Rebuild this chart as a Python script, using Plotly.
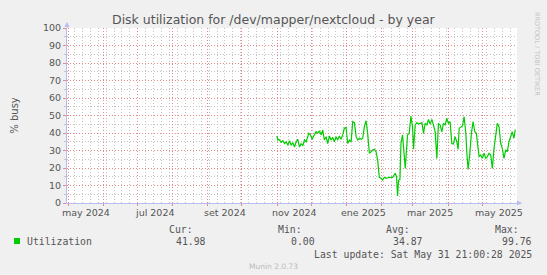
import pandas as pd
import plotly.graph_objects as go

# ---- data ----
base_date = "2024-05-01"
day_offset = [183.8, 184.7, 185.6, 187.7, 189.1, 190.6, 192.1, 193.5, 195.0, 196.5,
              197.9, 199.4, 200.9, 202.3, 203.8, 205.3, 206.7, 208.2, 209.7, 212.0,
              213.5, 215.0, 216.4, 218.5, 219.9, 221.4, 222.9, 224.3, 225.8, 227.3,
              228.7, 230.2, 231.7, 233.1, 234.6, 236.1, 237.5, 239.0, 240.5, 242.0,
              243.4, 244.9, 246.4, 247.9, 249.4, 250.8, 252.3, 253.8, 255.2, 256.7,
              258.2, 259.6, 261.1, 262.6, 264.0, 265.5, 267.0, 268.4, 269.9, 271.4,
              272.8, 274.3, 275.8, 277.2, 278.7, 280.2, 283.1, 286.0, 288.4, 289.5,
              290.4, 291.3, 292.5, 293.4, 294.8, 296.0, 297.2, 298.3, 299.2, 300.7,
              302.2, 303.6, 304.5, 306.0, 307.5, 308.9, 310.4, 311.9, 313.3, 314.8,
              316.3, 317.7, 319.2, 320.7, 322.1, 323.6, 325.1, 326.5, 328.0, 329.5,
              330.9, 332.4, 333.9, 335.3, 336.8, 338.3, 339.7, 341.2, 342.7, 343.9,
              344.8, 346.3, 347.7, 349.2, 350.7, 351.6, 352.7, 354.2, 355.6, 357.1,
              358.6, 360.0, 361.5, 362.4, 363.9, 365.3, 366.8, 368.3, 369.7, 371.2,
              372.7, 374.1, 375.6, 377.1, 378.5, 380.0, 381.5, 382.9, 384.4, 385.9,
              387.3, 388.8, 390.3, 391.7, 393.2, 394.3]
utilization = [38.3, 36.0, 36.4, 34.7, 35.6, 34.0, 35.0, 33.0, 35.6, 33.0,
               34.5, 32.0, 35.0, 36.4, 32.0, 34.0, 32.6, 36.0, 35.0, 39.8,
               38.9, 36.4, 38.3, 40.8, 39.8, 41.3, 38.9, 41.7, 36.0, 37.9,
               34.0, 38.3, 36.0, 37.5, 35.0, 37.9, 36.0, 38.3, 36.4, 38.9,
               42.7, 43.2, 34.0, 36.0, 35.0, 46.5, 45.9, 37.9, 36.0, 37.0,
               36.4, 37.0, 43.6, 47.0, 39.8, 28.4, 29.3, 30.3, 30.7, 29.3,
               24.6, 14.7, 14.1, 13.1, 14.7, 14.1, 14.7, 14.7, 17.0, 15.0,
               4.0, 13.0, 13.5, 34.0, 39.0, 26.5, 19.8, 30.3, 38.9, 39.8,
               49.7, 43.6, 30.7, 44.6, 45.9, 45.1, 45.5, 45.9, 39.8, 45.5,
               44.6, 47.8, 45.1, 47.8, 44.6, 40.7, 25.5, 45.5, 44.6, 40.7,
               45.5, 44.6, 48.4, 45.5, 46.5, 34.0, 33.7, 37.9, 35.0, 30.7,
               42.7, 43.6, 44.0, 49.3, 39.8, 28.4, 19.2, 28.4, 39.8, 46.5,
               40.7, 39.8, 32.2, 26.5, 27.4, 25.5, 28.4, 25.5, 26.5, 28.4,
               27.4, 19.8, 31.2, 37.9, 45.5, 43.6, 34.0, 31.2, 25.5, 30.3,
               29.3, 35.0, 37.9, 40.7, 37.0, 41.98]

month_grid = ["2024-05-01", "2024-06-01", "2024-07-01", "2024-08-01", "2024-09-01",
              "2024-10-01", "2024-11-01", "2024-12-01", "2025-01-01", "2025-02-01",
              "2025-03-01", "2025-04-01", "2025-05-01"]
label_dates = ["2024-05-16", "2024-07-16", "2024-09-16", "2024-11-16",
               "2025-01-16", "2025-03-16", "2025-05-16"]
label_text = ["may 2024", "jul 2024", "set 2024", "nov 2024",
              "ene 2025", "mar 2025", "may 2025"]
y_ticks = [0, 10, 20, 30, 40, 50, 60, 70, 80, 90, 100]

x_range = ["2024-04-29 12:00", "2025-05-31 21:00"]

title_text = "Disk utilization for /dev/mapper/nextcloud - by year"
series_name = "Utilization"
stat_names = ["Cur:", "Min:", "Avg:", "Max:"]
stat_values = ["41.98", "0.00", "34.87", "99.76"]
last_update = "Last update: Sat May 31 21:00:28 2025"
version_text = "Munin 2.0.73"
watermark = "RRDTOOL / TOBI OETIKER"

# ---- layout geometry (pixels) ----
W, H = 547, 275
L, R, T, B = 67, 517, 28, 203
PW, PH = R - L, B - T


def fx(px):
    return (px - L) / PW


def fy(py):
    return (B - py) / PH


dates = pd.Timestamp(base_date) + pd.to_timedelta(day_offset, unit="D")

GREEN = "#00CC00"
TXT = "#555555"
AXIS_C = "#b4bcf0"
MGRID = "#ea8888"
GRID = "#c4c4c4"
DOTS = "1px,2px"

fig = go.Figure()
fig.add_trace(go.Scatter(x=dates, y=utilization, mode="lines",
                         line=dict(color=GREEN, width=1.2), hoverinfo="skip"))

fig.update_layout(
    width=W, height=H,
    margin=dict(l=L, r=W - R, t=T, b=H - B, pad=0),
    paper_bgcolor="#F0F0F0", plot_bgcolor="#FFFFFF",
    showlegend=False, hovermode=False,
    font=dict(family="DejaVu Sans", size=9.5, color=TXT),
)

fig.update_xaxes(
    type="date", range=x_range,
    tickmode="array", tickvals=month_grid, showticklabels=False,
    ticks="outside", ticklen=2, tickcolor=MGRID,
    showgrid=True, gridcolor=MGRID, griddash=DOTS, gridwidth=1,
    minor=dict(dtick=7 * 86400000, tick0="2024-04-29", showgrid=True,
               gridcolor=GRID, griddash=DOTS, gridwidth=1, ticks=""),
    showline=True, linecolor=AXIS_C, linewidth=1,
    zeroline=False, fixedrange=True,
)
fig.update_yaxes(
    range=[0, 100], tickmode="array", tickvals=y_ticks,
    ticks="outside", ticklen=3, tickcolor=MGRID,
    tickfont=dict(size=9.5, color=TXT),
    showgrid=True, gridcolor=MGRID, griddash=DOTS, gridwidth=1,
    minor=dict(dtick=5, showgrid=True, gridcolor=GRID, griddash=DOTS,
               gridwidth=1, ticks="outside", ticklen=2, tickcolor=GRID),
    showline=True, linecolor=AXIS_C, linewidth=1,
    zeroline=False, fixedrange=True,
    title=dict(text="% busy", font=dict(size=10, color=TXT), standoff=22),
)

ann = []
# x tick labels at mid-month
for d, t in zip(label_dates, label_text):
    ann.append(dict(x=d, y=fy(212.5), xref="x", yref="paper", text=t,
                    showarrow=False, xanchor="center", yanchor="middle",
                    font=dict(size=9.5, color=TXT)))
# title
ann.append(dict(x=(W / 2 - L) / PW, y=fy(19), xref="paper", yref="paper",
                text=title_text, showarrow=False, xanchor="center",
                yanchor="middle", font=dict(size=12.5, color=TXT)))
# axis arrows
ann.append(dict(x=fx(522), y=0, xref="paper", yref="paper", ax=-7, ay=0,
                axref="pixel", ayref="pixel", text="", showarrow=True,
                arrowhead=2, arrowsize=1, arrowwidth=1, arrowcolor=AXIS_C))
ann.append(dict(x=0, y=fy(22), xref="paper", yref="paper", ax=0, ay=7,
                axref="pixel", ayref="pixel", text="", showarrow=True,
                arrowhead=2, arrowsize=1, arrowwidth=1, arrowcolor=AXIS_C))
# watermark
ann.append(dict(x=fx(537), y=fy(54), xref="paper", yref="paper",
                text=watermark, showarrow=False, textangle=90,
                xanchor="center", yanchor="middle",
                font=dict(size=6.5, color="#c4c4c4")))
# legend
MONO = "DejaVu Sans Mono"
ann.append(dict(x=fx(25), y=fy(241), xref="paper", yref="paper",
                text=series_name, showarrow=False, xanchor="left",
                yanchor="middle", font=dict(family=MONO, size=9.8, color=TXT)))
head_right = [195, 304, 412, 521]
val_right = [208, 317, 425, 534]
for s, v, hx, vx in zip(stat_names, stat_values, head_right, val_right):
    ann.append(dict(x=fx(hx), y=fy(229.5), xref="paper", yref="paper", text=s,
                    showarrow=False, xanchor="right", yanchor="middle",
                    font=dict(family=MONO, size=9.8, color=TXT)))
    ann.append(dict(x=fx(vx), y=fy(241), xref="paper", yref="paper", text=v,
                    showarrow=False, xanchor="right", yanchor="middle",
                    font=dict(family=MONO, size=9.8, color=TXT)))
ann.append(dict(x=fx(534), y=fy(254), xref="paper", yref="paper",
                text=last_update, showarrow=False, xanchor="right",
                yanchor="middle", font=dict(family=MONO, size=9.8, color=TXT)))
ann.append(dict(x=(W / 2 - L) / PW, y=fy(266), xref="paper", yref="paper",
                text=version_text, showarrow=False, xanchor="center",
                yanchor="middle", font=dict(size=7.5, color="#bbbbbb")))
fig.update_layout(annotations=ann)

# legend colour swatch
fig.add_shape(type="rect", xref="paper", yref="paper",
              x0=fx(14), x1=fx(20), y0=fy(244), y1=fy(238),
              fillcolor=GREEN, line=dict(width=0))

fig.write_html("out.html")
